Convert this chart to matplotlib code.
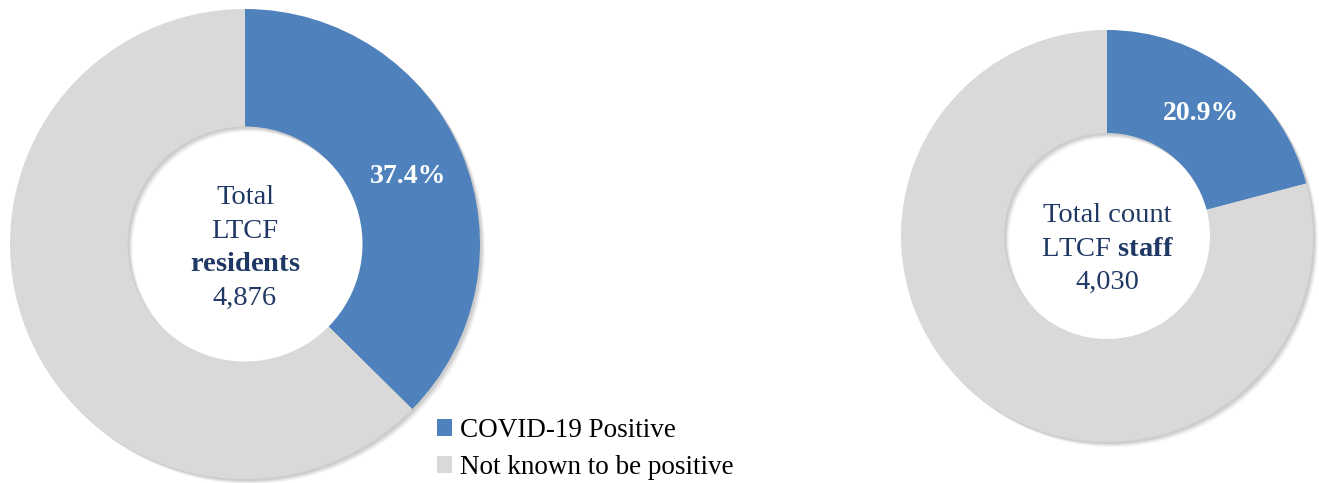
import matplotlib.pyplot as plt
from matplotlib.patches import Wedge

plt.rcParams['font.family'] = 'Liberation Serif'
plt.rcParams['mathtext.fontset'] = 'custom'
plt.rcParams['mathtext.rm'] = 'Liberation Serif'
plt.rcParams['mathtext.bf'] = 'Liberation Serif:bold'

labels = ['COVID-19 Positive', 'Not known to be positive']
residents = [37.4, 62.6]
staff = [20.9, 79.1]
colors = ['#4F81BD', '#D9D9D9']
navy = '#1F3864'

W, H = 1319, 483
fig = plt.figure(figsize=(W / 100, H / 100), dpi=100)
ax = fig.add_axes([0, 0, 1, 1])


def donut(vals, center, r):
    # soft shadow behind the ring
    for k, a in [(5, 0.07), (4, 0.09), (3, 0.12), (2, 0.16)]:
        ax.add_patch(Wedge((center[0] + k, center[1] - k), r, 0, 360, width=r * 0.5,
                           color='#7F7F7F', alpha=a, lw=0, zorder=0))
    wedges, texts, pct = ax.pie(vals, radius=r, center=center, startangle=90,
                                counterclock=False, colors=colors,
                                wedgeprops=dict(width=r * 0.5, linewidth=0),
                                autopct='%.1f%%', pctdistance=0.75,
                                textprops=dict(color='white', fontsize=20, fontweight='bold'))
    pct[1].set_text('')
    return wedges


w1 = donut(residents, (245, H - 244), 235)
donut(staff, (1107, H - 236), 206)

ax.text(245, H - 248, 'Total\nLTCF\n$\\mathbf{residents}$\n4,876', ha='center', va='center',
        fontsize=20.5, color=navy, linespacing=1.45)
ax.text(1107, H - 249, 'Total count\nLTCF $\\mathbf{staff}$\n4,030', ha='center', va='center',
        fontsize=20.5, color=navy, linespacing=1.45)

ax.legend(w1, labels, loc='upper left', bbox_to_anchor=(437 / W, 1 - 418 / H),
          bbox_transform=fig.transFigure, frameon=False, fontsize=19.5,
          handlelength=0.56, handleheight=0.56, handletextpad=0.3, labelspacing=0.45,
          borderpad=0, borderaxespad=0)

ax.set_xlim(0, W)
ax.set_ylim(0, H)
ax.set_aspect('equal')
ax.axis('off')

fig.savefig('out.png', dpi=100)
